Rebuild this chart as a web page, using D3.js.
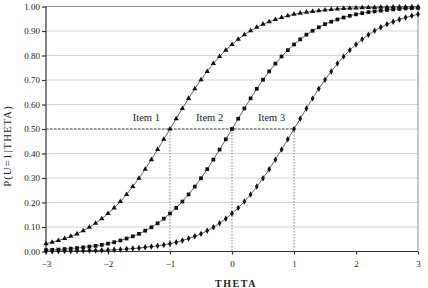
<!DOCTYPE html>
<html><head><meta charset="utf-8">
<script src="https://cdn.jsdelivr.net/npm/d3@7"></script>
<style>body{margin:0;background:#fff}svg{display:block}</style>
</head><body>
<svg id="c" width="428" height="288"></svg>
<script>
const thetaStart = -3, thetaStep = 0.1;
const item1 = [0.032,0.038,0.045,0.053,0.062,0.072,0.085,0.099,0.115,0.134,
0.155,0.178,0.204,0.233,0.265,0.299,0.336,0.375,0.416,0.458,
0.500,0.542,0.584,0.625,0.664,0.701,0.735,0.767,0.796,0.822,
0.845,0.866,0.885,0.901,0.915,0.928,0.938,0.947,0.955,0.962,
0.968,0.973,0.977,0.980,0.983,0.986,0.988,0.990,0.992,0.993,
0.994,0.995,0.996,0.996,0.997,0.997,0.998,0.998,0.998,0.999,0.999];
const item2 = [0.006,0.007,0.008,0.010,0.012,0.014,0.017,0.020,0.023,0.027,
0.032,0.038,0.045,0.053,0.062,0.072,0.085,0.099,0.115,0.134,
0.155,0.178,0.204,0.233,0.265,0.299,0.336,0.375,0.416,0.458,
0.500,0.542,0.584,0.625,0.664,0.701,0.735,0.767,0.796,0.822,
0.845,0.866,0.885,0.901,0.915,0.928,0.938,0.947,0.955,0.962,
0.968,0.973,0.977,0.980,0.983,0.986,0.988,0.990,0.992,0.993,0.994];
const item3 = [0.001,0.001,0.002,0.002,0.002,0.003,0.003,0.004,0.004,0.005,
0.006,0.007,0.008,0.010,0.012,0.014,0.017,0.020,0.023,0.027,
0.032,0.038,0.045,0.053,0.062,0.072,0.085,0.099,0.115,0.134,
0.155,0.178,0.204,0.233,0.265,0.299,0.336,0.375,0.416,0.458,
0.500,0.542,0.584,0.625,0.664,0.701,0.735,0.767,0.796,0.822,
0.845,0.866,0.885,0.901,0.915,0.928,0.938,0.947,0.955,0.962,0.968];
const itemNames = ["Item 1","Item 2","Item 3"];
const itemB = [-1, 0, 1];
const itemLabelPos = [[-1.6, 0.532],[-0.58, 0.532],[0.42, 0.532]];
const xTicks = [-3,-2,-1,0,1,2,3];
const yTicks = [0,0.1,0.2,0.3,0.4,0.5,0.6,0.7,0.8,0.9,1.0];
const xTitle = "THETA", yTitle = "P(U=1|THETA)";

const svg = d3.select("#c");
const L = 46, R = 418, T = 6.5, B = 251.5;
const x = d3.scaleLinear().domain([-3,3]).range([L,R]);
const y = d3.scaleLinear().domain([0,1]).range([B,T]);
const serif = "'Liberation Serif','Times New Roman',serif";

// grid
svg.append("g").selectAll("line").data(yTicks.filter(v=>v>0&&v<1)).join("line")
  .attr("x1",L).attr("x2",R).attr("y1",d=>y(d)).attr("y2",d=>y(d))
  .attr("stroke","#d4d4d4").attr("stroke-width",1);
// frame top/right
svg.append("line").attr("x1",L).attr("x2",R).attr("y1",y(1)).attr("y2",y(1)).attr("stroke","#8a8a8a");
svg.append("line").attr("x1",R).attr("x2",R).attr("y1",y(1)).attr("y2",B).attr("stroke","#8a8a8a");

// axes
const yAxis = svg.append("g").attr("transform",`translate(${L},0)`)
  .call(d3.axisLeft(y).tickValues(yTicks).tickFormat(d3.format(".2f")).tickSize(4).tickPadding(2));
const xAxis = svg.append("g").attr("transform",`translate(0,${B})`)
  .call(d3.axisBottom(x).tickValues(xTicks).tickFormat(d3.format("d")).tickSize(3).tickPadding(6));
[yAxis,xAxis].forEach(g=>{
  g.selectAll("path,line").attr("stroke","#333").attr("stroke-width",1.2);
  g.selectAll("text").attr("font-family",serif).attr("font-size",9).attr("fill","#222");
});
yAxis.select(".domain").attr("d",`M0,${T}V${B}`);
xAxis.select(".domain").attr("d",`M${L},0H${R}`);

// reference dashed lines
svg.append("line").attr("x1",L).attr("x2",x(itemB[2])).attr("y1",y(0.5)).attr("y2",y(0.5))
  .attr("stroke","#444").attr("stroke-width",0.9).attr("stroke-dasharray","2.5,1.5");
svg.append("g").selectAll("line").data(itemB).join("line")
  .attr("x1",d=>x(d)).attr("x2",d=>x(d)).attr("y1",y(0.5)).attr("y2",B)
  .attr("stroke","#777").attr("stroke-width",0.9).attr("stroke-dasharray","1.5,1.5");

// curves
const series = [item1,item2,item3];
const line = d3.line().x((d,i)=>x(thetaStart+i*thetaStep)).y(d=>y(d));
const symbols = [d3.symbolTriangle, d3.symbolSquare, d3.symbolDiamond];
const sizes = [12, 14, 12];
series.forEach((s,k)=>{
  svg.append("path").datum(s).attr("d",line).attr("fill","none")
    .attr("stroke","#555").attr("stroke-width",0.9);
  svg.append("g").selectAll("path").data(s).join("path")
    .attr("transform",(d,i)=>`translate(${x(thetaStart+i*thetaStep)},${y(d)})`)
    .attr("d",d3.symbol().type(symbols[k]).size(sizes[k])).attr("fill","#111");
});

// item labels
svg.append("g").selectAll("text").data(itemNames).join("text")
  .attr("x",(d,i)=>x(itemLabelPos[i][0])).attr("y",(d,i)=>y(itemLabelPos[i][1]))
  .attr("font-family",serif).attr("font-size",10.5).attr("fill","#222").text(d=>d);

// titles
svg.append("text").attr("x",(L+R)/2+4).attr("y",286.5).attr("text-anchor","middle")
  .attr("font-family",serif).attr("font-size",10).attr("font-weight","bold")
  .attr("letter-spacing",1.5).attr("fill","#222").text(xTitle);
svg.append("text").attr("transform",`translate(11,146) rotate(-90)`).attr("text-anchor","middle")
  .attr("font-family",serif).attr("font-size",10.5).attr("letter-spacing",1.2)
  .attr("fill","#222").text(yTitle);
</script>
</body></html>
